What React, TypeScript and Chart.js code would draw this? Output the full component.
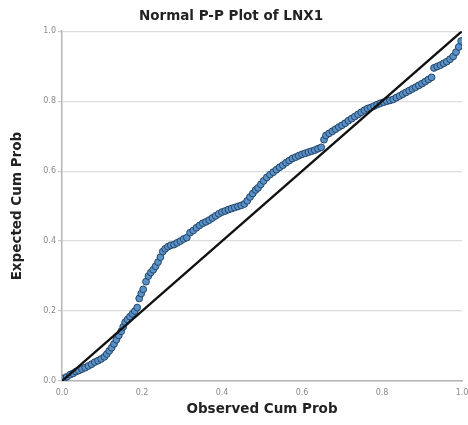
import React, { useEffect, useRef } from "react";
import { Chart, registerables } from "chart.js";

Chart.register(...registerables);

const titleText = "Normal P-P Plot of LNX1";
const xAxisTitle = "Observed Cum Prob";
const yAxisTitle = "Expected Cum Prob";
const tickValues = [0, 0.2, 0.4, 0.6, 0.8, 1.0];

const observedCumProb = [
  0.005, 0.012, 0.02, 0.028, 0.035, 0.042, 0.05, 0.058, 0.066, 0.074,
  0.082, 0.09, 0.098, 0.106, 0.112, 0.118, 0.124, 0.13, 0.136, 0.142,
  0.148, 0.153, 0.158, 0.164, 0.17, 0.176, 0.182, 0.188, 0.193, 0.198,
  0.203, 0.21, 0.216, 0.222, 0.228, 0.234, 0.24, 0.246, 0.252, 0.258,
  0.265, 0.272, 0.28, 0.288, 0.296, 0.304, 0.312, 0.32, 0.328, 0.336,
  0.344, 0.352, 0.36, 0.368, 0.376, 0.384, 0.392, 0.4, 0.408, 0.416,
  0.424, 0.432, 0.44, 0.448, 0.456, 0.463, 0.47, 0.477, 0.484, 0.49,
  0.497, 0.504, 0.512, 0.52, 0.528, 0.536, 0.544, 0.552, 0.56, 0.568,
  0.576, 0.584, 0.592, 0.6, 0.608, 0.616, 0.624, 0.632, 0.64, 0.648,
  0.655, 0.66, 0.668, 0.676, 0.684, 0.692, 0.7, 0.708, 0.716, 0.724,
  0.732, 0.74, 0.748, 0.756, 0.764, 0.772, 0.78, 0.788, 0.796, 0.804,
  0.812, 0.82, 0.828, 0.836, 0.844, 0.852, 0.86, 0.868, 0.876, 0.884,
  0.892, 0.9, 0.908, 0.916, 0.924, 0.93, 0.938, 0.946, 0.954, 0.962,
  0.97, 0.978, 0.985, 0.992, 0.998,
];

const expectedCumProb = [
  0.008, 0.012, 0.018, 0.022, 0.027, 0.03, 0.034, 0.038, 0.043, 0.048,
  0.054, 0.058, 0.063, 0.069, 0.077, 0.086, 0.095, 0.106, 0.118, 0.13,
  0.142, 0.155, 0.168, 0.176, 0.184, 0.192, 0.2, 0.21, 0.236, 0.25,
  0.262, 0.284, 0.3, 0.31, 0.318, 0.328, 0.34, 0.354, 0.37, 0.378,
  0.384, 0.388, 0.39, 0.395, 0.4, 0.406, 0.41, 0.424, 0.43, 0.438,
  0.445, 0.451, 0.455, 0.46, 0.466, 0.472, 0.478, 0.483, 0.486, 0.49,
  0.493, 0.496, 0.499, 0.502, 0.506, 0.515, 0.526, 0.536, 0.546, 0.552,
  0.562, 0.572, 0.582, 0.59, 0.597, 0.604, 0.611, 0.617, 0.624, 0.63,
  0.636, 0.64, 0.644, 0.648, 0.651, 0.654, 0.657, 0.66, 0.664, 0.668,
  0.69, 0.702, 0.708, 0.714, 0.72, 0.726, 0.731, 0.737, 0.744, 0.75,
  0.756, 0.762, 0.768, 0.774, 0.779, 0.782, 0.786, 0.79, 0.794, 0.797,
  0.8, 0.802, 0.805, 0.81, 0.815, 0.82, 0.825, 0.83, 0.835, 0.84,
  0.845, 0.85, 0.856, 0.862, 0.868, 0.895, 0.899, 0.903, 0.908, 0.913,
  0.92, 0.928, 0.94, 0.955, 0.972,
];

const refLineX = [0, 1];
const refLineY = [0, 1];

export default function App() {
  const canvasRef = useRef<HTMLCanvasElement | null>(null);

  useEffect(() => {
    if (!canvasRef.current) return;
    const points = observedCumProb.map((x, i) => ({ x, y: expectedCumProb[i] }));
    const line = refLineX.map((x, i) => ({ x, y: refLineY[i] }));
    const titleFont = { family: "'DejaVu Sans', sans-serif", size: 13.5, weight: "bold" as const };
    const tickFont = { family: "'DejaVu Sans', sans-serif", size: 8 };

    const chart = new Chart(canvasRef.current, {
      type: "scatter",
      data: {
        datasets: [
          {
            type: "line",
            data: line,
            borderColor: "#111111",
            borderWidth: 2.4,
            pointRadius: 0,
            fill: false,
          } as any,
          {
            type: "scatter",
            data: points,
            pointRadius: 3.4,
            pointBackgroundColor: "#5a92c8",
            pointBorderColor: "#234468",
            pointBorderWidth: 1,
          } as any,
        ],
      },
      options: {
        animation: false,
        responsive: false,
        maintainAspectRatio: false,
        layout: { padding: { left: 0, right: 6, top: 0, bottom: 0 } },
        plugins: {
          legend: { display: false },
          tooltip: { enabled: false },
          title: {
            display: true,
            text: titleText,
            color: "#222222",
            font: titleFont,
            padding: { top: 8, bottom: 7 },
          },
        },
        scales: {
          x: {
            type: "linear",
            min: 0,
            max: 1,
            afterBuildTicks: (scale: any) => {
              scale.ticks = tickValues.map((v) => ({ value: v }));
            },
            afterFit: (scale: any) => {
              scale.height = 44;
              scale.paddingLeft = 0;
              scale.paddingRight = 0;
            },
            grid: { display: false, drawTicks: false },
            border: { display: true, color: "#b5b5b5", width: 1.5 },
            ticks: {
              color: "#8a8a8a",
              font: tickFont,
              padding: 7,
              maxRotation: 0,
              callback: (v: any) => Number(v).toFixed(1),
            },
            title: {
              display: true,
              text: xAxisTitle,
              color: "#222222",
              font: titleFont,
              padding: { top: 0, bottom: 7 },
            },
          },
          y: {
            type: "linear",
            min: 0,
            max: 1,
            afterBuildTicks: (scale: any) => {
              scale.ticks = tickValues.map((v) => ({ value: v }));
            },
            afterFit: (scale: any) => {
              scale.width = 62;
              scale.paddingTop = 0;
              scale.paddingBottom = 0;
            },
            grid: { color: "#dcdcdc", lineWidth: 1.2, drawTicks: true, tickLength: 4, tickColor: "#c8c8c8" },
            border: { display: true, color: "#b5b5b5", width: 1.5 },
            ticks: {
              color: "#8a8a8a",
              font: tickFont,
              padding: 2,
              callback: (v: any) => Number(v).toFixed(1),
            },
            title: {
              display: true,
              text: yAxisTitle,
              color: "#222222",
              font: titleFont,
              padding: { top: 9, bottom: 0 },
            },
          },
        },
      },
    });
    return () => chart.destroy();
  }, []);

  return (
    <div style={{ position: "absolute", left: 0, top: 0, width: 468, height: 425, background: "#ffffff" }}>
      <canvas ref={canvasRef} width={468} height={425} style={{ width: 468, height: 425 }} />
    </div>
  );
}
